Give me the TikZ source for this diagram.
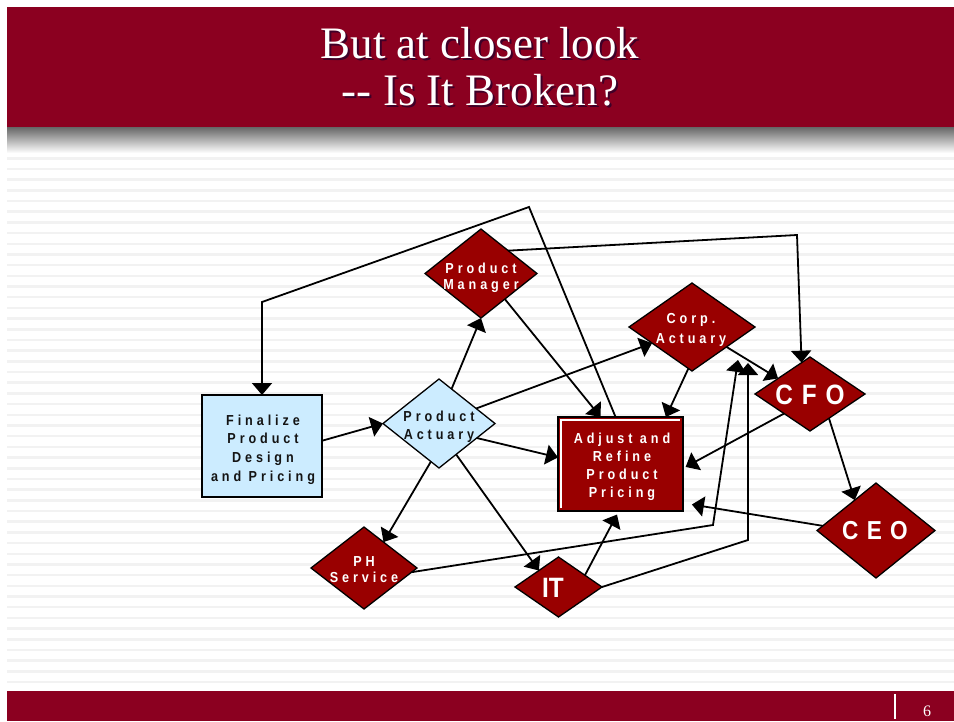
\documentclass[tikz,border=0pt]{standalone}
\usepackage{fontspec}
\setmainfont{Liberation Serif}
\newfontfamily\chartfont[LetterSpace=27,FakeStretch=0.87]{Liberation Sans}
\newfontfamily\headfont[LetterSpace=32,FakeStretch=0.87]{Liberation Sans}
\newfontfamily\plainsans[FakeStretch=0.87]{Liberation Sans}
\usetikzlibrary{shapes.geometric,arrows.meta}

\definecolor{barred}{RGB}{139,0,32}
\definecolor{nodered}{RGB}{153,0,0}
\definecolor{paleblue}{RGB}{204,236,255}
\definecolor{stripe}{RGB}{242,242,242}
\definecolor{titleshadow}{RGB}{62,0,40}

\begin{document}
\begin{tikzpicture}[x=1pt,y=-1pt,
  every node/.style={inner sep=0pt,outer sep=0pt},
  bluebox/.style={rectangle,draw=black,line width=2pt,fill=paleblue},
  redbox/.style={rectangle,draw=black,line width=2pt,fill=nodered},
  bluedia/.style={diamond,draw=black,line width=1.3pt,fill=paleblue},
  reddia/.style={diamond,draw=black,line width=1.3pt,fill=nodered},
  flow/.style={draw=black,line width=1.8pt,line join=miter,
    -{Triangle[length=12pt,width=20pt]}},
  small/.style={font=\chartfont\bfseries\fontsize{14.5}{#1}\selectfont,align=center},
  big/.style={font=\headfont\bfseries\fontsize{#1}{#1}\selectfont,text=white},
]
\useasboundingbox (0,0) rectangle (954,721);

% striped slide background
\foreach \k in {0,...,49}
  \fill[stripe] (7,{157+10.69*\k}) rectangle (954,{159.5+10.69*\k});

% title bar with its drop shadow
\shade[top color=black!60,bottom color=white] (7,127) rectangle (954,153);
\fill[barred] (7,7) rectangle (954,127);
\node[font=\fontsize{45}{47}\selectfont,align=center,text=titleshadow]
  (title-sh) at (482,69.2) {But at closer look\\-{}- Is It Broken?};
\node[font=\fontsize{45}{47}\selectfont,align=center,text=white]
  (title) at (480,67.2) {But at closer look\\-{}- Is It Broken?};

% footer bar
\fill[barred] (7,691) rectangle (954,721);
\draw[white,line width=1.5pt] (895,694) -- (895,719);
\node[font=\fontsize{16}{16}\selectfont,text=white,anchor=base] (pageno) at (927,716) {6};

% process shapes
\node[bluebox,minimum width=120pt,minimum height=102pt] (fin) at (262,446) {};
\node[bluedia,minimum width=112pt,minimum height=89pt] (pa) at (439,423.5) {};
\node[reddia,minimum width=112pt,minimum height=89pt] (pm) at (481,273.5) {};
\node[reddia,minimum width=126pt,minimum height=88pt] (ca) at (692,327) {};
\node[reddia,minimum width=110pt,minimum height=74pt] (cfo) at (810,394) {};
\node[reddia,minimum width=118pt,minimum height=95pt] (ceo) at (876,530.5) {};
\node[redbox,minimum width=125pt,minimum height=94pt] (adj) at (620.5,464) {};
\draw[white,line width=1.2pt] ([shift={(3,-3)}]adj.south west)
  -- ([shift={(3,3)}]adj.north west) -- ([shift={(-3,3)}]adj.north east);
\node[reddia,minimum width=106pt,minimum height=82pt] (ph) at (364,568) {};
\node[reddia,minimum width=87pt,minimum height=60pt] (it) at (558.5,587) {};

% connectors
\coordinate (loopA) at (529,207);
\coordinate (loopB) at (262,302);
\coordinate (pmTurn) at (797,235);
\coordinate (phTurn) at (713,525);
\coordinate (phEnd) at (738,360);
\coordinate (itTurn) at (748,540);
\coordinate (itEnd) at (748,363);

\draw[flow] (fin.5) -- (pa.west);
\draw[flow] (pa.70) -- (pm.south);
\draw[flow] (pa.-21) -- (adj.174);
\draw[flow] (pa.-102) -- (ph.53);
\draw[flow] (pa.-61) -- (it.140);
\draw[flow] (pa.22) -- (ca.202);
\draw[flow] (adj.96) -- (loopA) -- (loopB) -- (fin.north);
\draw[flow] (pm.-47) -- (adj.113);
\draw[flow] (pm.40) -- (pmTurn) -- (cfo.105);
\draw[flow] (ca.-30) -- (cfo.154);
\draw[flow] (ca.-95) -- (adj.46);
\draw[flow,shorten >=3pt] (cfo.217) -- (adj.-4);
\draw[flow] (cfo.-52) -- (ceo.125);
\draw[flow,shorten >=9pt] (ceo.175) -- (adj.-32);
\draw[flow] (ph.-5) -- (phTurn) -- (phEnd);
\draw[flow] (it.east) -- (itTurn) -- (itEnd);
\draw[flow,shorten >=4pt] (it.24) -- (adj.-92);

% labels
\node[small=18.67,text=black!92] (fin-t) at (263,449.6) {Finalize\\Product\\Design\\and Pricing};
\node[small=18,text=black!92] (pa-t) at (439,426.6) {Product\\Actuary};
\node[small=16,text=white] (pm-t) at (481,277.6) {Product\\Manager};
\node[small=20,text=white] (ca-t) at (691,329.7) {Corp.\\Actuary};
\node[small=18,text=white] (adj-t) at (622,466.6) {Adjust and\\Refine\\Product\\Pricing};
\node[small=16,text=white] (ph-t) at (364,570) {PH\\Service};
\node[big=28] (cfo-t) at (810,395) {CFO};
\node[big=26] (ceo-t) at (875,531) {CEO};
\node[font=\plainsans\bfseries\fontsize{28}{28}\selectfont,text=white] (it-t) at (553,588) {IT};
\end{tikzpicture}
\end{document}
